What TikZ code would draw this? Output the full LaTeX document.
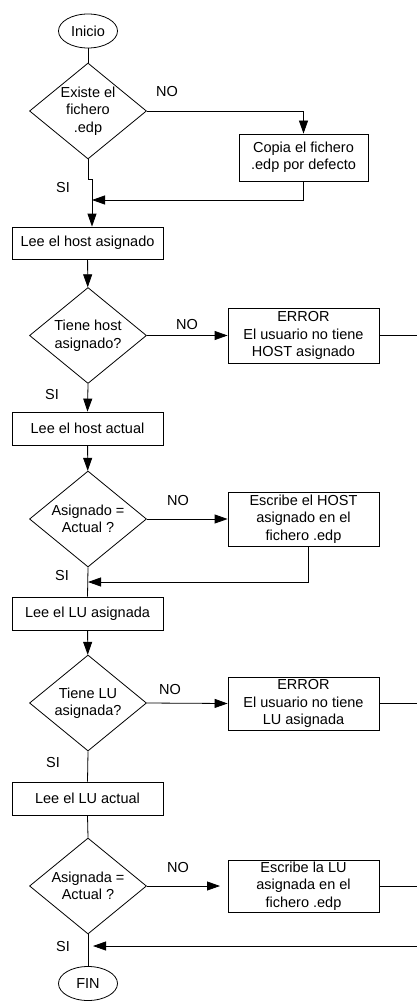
\documentclass[tikz,border=0pt]{standalone}
\usepackage{fontspec}
\setmainfont{Liberation Sans}
\usetikzlibrary{shapes.geometric,arrows.meta}
\begin{document}
\begin{tikzpicture}[x=1pt,y=-1pt,
  every node/.style={font=\fontsize{14.5}{17.5}\selectfont},
  line/.style={draw=black,line width=0.8pt},
  arr/.style={line,-{Triangle[length=13pt,width=9pt]}},
  procbox/.style={line,rectangle,inner sep=0pt,align=center,minimum width=151pt},
  decision/.style={line,diamond,inner sep=0pt,minimum width=117pt,minimum height=96pt},
  dtext/.style={align=center,inner sep=0pt},
  term/.style={line,ellipse,inner sep=0pt,minimum width=59pt,minimum height=34pt},
  tag/.style={inner sep=0pt}]
\useasboundingbox (0,0) rectangle (417,1003);

% terminals
\node[term] (ini) at (88,31) {Inicio};
\node[term] (fin) at (88,983.5) {FIN};

% decisions
\node[decision,label={[dtext]center:{Existe el\\fichero\\.edp}}] (d1) at (88,111) {};
\node[decision,label={[dtext]center:{Tiene host\\asignado?}}] (d2) at (88,335.5) {};
\node[decision,label={[dtext]center:{Asignado =\\Actual ?}}] (d3) at (88,519) {};
\node[decision,label={[dtext]center:{Tiene LU\\asignada?}}] (d4) at (88,703) {};
\node[decision,label={[dtext]center:{Asignada =\\Actual ?}}] (d5) at (88,886) {};

% process boxes
\node[procbox,minimum width=129pt,minimum height=47pt] (copy) at (303.5,157.5) {Copia el fichero\\.edp por defecto};
\node[procbox,minimum height=32pt] (lee1) at (87.5,243) {Lee el host asignado};
\node[procbox,minimum height=55pt] (err1) at (303.5,335.5) {ERROR\\El usuario no tiene\\HOST asignado};
\node[procbox,minimum height=33pt] (lee2) at (87.5,428.5) {Lee el host actual};
\node[procbox,minimum height=54pt] (esc1) at (303.5,519) {Escribe el HOST\\asignado en el\\fichero .edp};
\node[procbox,minimum height=33pt] (lee3) at (87.5,613.5) {Lee el LU asignada};
\node[procbox,minimum height=53pt] (err2) at (303.5,703.5) {ERROR\\El usuario no tiene\\LU asignada};
\node[procbox,minimum height=33pt] (lee4) at (87.5,798.5) {Lee el LU actual};
\node[procbox,minimum height=52pt] (esc2) at (303.5,886) {Escribe la LU\\asignada en el\\fichero .edp};

% branch labels
\node[tag] (no1) at (167,92) {NO};
\node[tag] (no2) at (187,325) {NO};
\node[tag] (no3) at (178,501) {NO};
\node[tag] (no4) at (170,690) {NO};
\node[tag] (no5) at (178,867) {NO};
\node[tag] (si1) at (63,188) {SI};
\node[tag] (si2) at (52,395) {SI};
\node[tag] (si3) at (62,576) {SI};
\node[tag] (si4) at (53,762) {SI};
\node[tag] (si5) at (63,946) {SI};

% routing points
\coordinate (j1) at (92,179);
\coordinate (j2) at (92,200);
\coordinate (j3) at (88,582);
\coordinate (a5) at (220,886);
\coordinate (r1) at (417,335.5);
\coordinate (r2) at (417,703.5);
\coordinate (r3) at (417,886);
\coordinate (r4) at (417,946);
\coordinate (m5) at (93,946);

% connectors
\draw[line] (ini) -- (d1);
\draw[arr] (d1.east) -| (copy.north);
\draw[arr] (d1.south) |- (j1) -- (j1 |- lee1.north);
\draw[arr] (copy.south) |- (j2);
\draw[arr] (lee1) -- (d2);
\draw[arr] (d2.east) -- (err1.west);
\draw[line] (err1.east) -- (r1);
\draw[arr] (d2.south) -- (lee2.north);
\draw[arr] (lee2) -- (d3);
\draw[arr] (d3.east) -- (esc1.west);
\draw[arr] ([xshift=4.5pt]esc1.south) |- (j3);
\draw[line] (d3.south) -- (lee3.north);
\draw[arr] (lee3) -- (d4);
\draw[arr] (d4.east) -- (err2.west);
\draw[line] (err2.east) -- (r2);
\draw[line] (d4.south) -- (lee4.north);
\draw[line] (lee4.south) -- (d5.north);
\draw[arr] (d5.east) -- (a5);
\draw[line] (esc2.east) -- (r3);
\draw[arr] (r4) -- (m5);
\draw[line] (d5.south) -- (fin.north);
\end{tikzpicture}
\end{document}
